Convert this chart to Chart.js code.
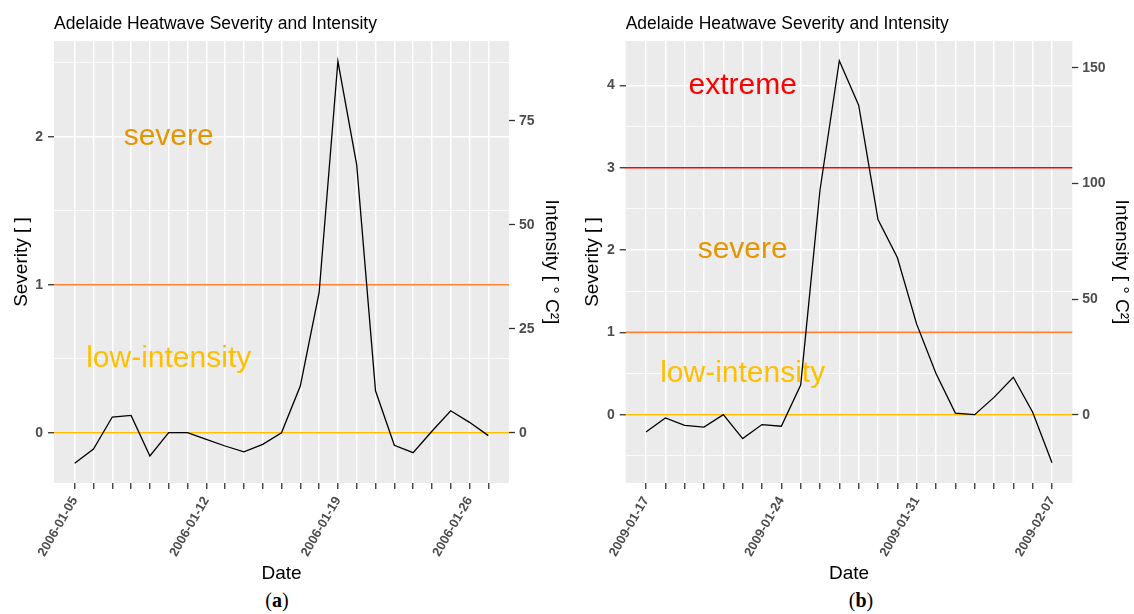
<!DOCTYPE html>
<html>
<head>
<meta charset="utf-8">
<script src="https://cdn.jsdelivr.net/npm/chart.js@4.4.0/dist/chart.umd.min.js"></script>
<style>
  body { margin: 0; background: #fff; width: 1134px; height: 614px; position: relative; overflow: hidden; }
  canvas { position: absolute; top: 0; }
  #chartA { left: 0; }
  #chartB { left: 566px; }
  .caption { position: absolute; top: 589px; width: 60px; text-align: center; font: 20px "Liberation Serif", serif; color: #000; }
</style>
</head>
<body>
<canvas id="chartA" width="566" height="588"></canvas>
<canvas id="chartB" width="568" height="588"></canvas>
<div class="caption" style="left:247px">(<b>a</b>)</div>
<div class="caption" style="left:831px">(<b>b</b>)</div>
<script>
//data (a) - January 2006
const datesA = [
  "2006-01-05", "2006-01-06", "2006-01-07", "2006-01-08", "2006-01-09", "2006-01-10",
  "2006-01-11", "2006-01-12", "2006-01-13", "2006-01-14", "2006-01-15", "2006-01-16",
  "2006-01-17", "2006-01-18", "2006-01-19", "2006-01-20", "2006-01-21", "2006-01-22",
  "2006-01-23", "2006-01-24", "2006-01-25", "2006-01-26", "2006-01-27",
];
const severityA = [
  -0.207, -0.11, 0.106, 0.117, -0.157, 0.0, 0.0, -0.045, -0.09, -0.13, -0.079, 0.0,
  0.315, 0.946, 2.51, 1.81, 0.283, -0.085, -0.135, 0.01, 0.148, 0.07, -0.02,
];
const severityTicksA = [0, 0.5, 1, 1.5, 2, 2.5];
const intensityTicksA = [0, 25, 50, 75];
const thresholdsA = [0, 1];
const zoneLabelsA = ["severe", "low-intensity"];
const zoneLevelsA = [2, 0.5];

//data (b) - January/February 2009
const datesB = [
  "2009-01-17", "2009-01-18", "2009-01-19", "2009-01-20", "2009-01-21", "2009-01-22",
  "2009-01-23", "2009-01-24", "2009-01-25", "2009-01-26", "2009-01-27", "2009-01-28",
  "2009-01-29", "2009-01-30", "2009-01-31", "2009-02-01", "2009-02-02", "2009-02-03",
  "2009-02-04", "2009-02-05", "2009-02-06", "2009-02-07",
];
const severityB = [
  -0.21, -0.04, -0.13, -0.15, 0.0, -0.29, -0.12, -0.14, 0.36, 2.73, 4.3, 3.76,
  2.37, 1.91, 1.1, 0.5, 0.02, 0.0, 0.21, 0.455, 0.03, -0.585,
];
const severityTicksB = [-0.5, 0, 0.5, 1, 1.5, 2, 2.5, 3, 3.5, 4];
const intensityTicksB = [0, 50, 100, 150];
const thresholdsB = [0, 1, 3];
const zoneLabelsB = ["extreme", "severe", "low-intensity"];
const zoneLevelsB = [4, 2, 0.5];

// secondary axis: intensity = severity * factor
const intensityPerSeverity = 35.6;

//style
const FONT = "'Liberation Sans', Arial, sans-serif";
const TICK_TEXT = "#4d4d4d";
const TICK_MARK = "#333333";
const zoneColours = { "low-intensity": "#ffbf00", severe: "#e69500", extreme: "#ff0000" };
const levelColours = { 0: "#ffbf00", 1: "#ff8236", 3: "#ff0000" };

const panelBackground = {
  id: "panelBackground",
  beforeDraw(chart) {
    const { ctx, chartArea: a } = chart;
    ctx.save();
    ctx.fillStyle = "#ebebeb";
    ctx.fillRect(a.left, a.top, a.right - a.left, a.bottom - a.top);
    ctx.restore();
  },
};

const zones = {
  id: "zones",
  beforeDatasetsDraw(chart, args, opts) {
    const { ctx, chartArea: a, scales } = chart;
    ctx.save();
    ctx.lineWidth = 1.6;
    opts.levels.forEach((v) => {
      const py = scales.y.getPixelForValue(v);
      ctx.strokeStyle = levelColours[v];
      ctx.beginPath();
      ctx.moveTo(a.left, py);
      ctx.lineTo(a.right, py);
      ctx.stroke();
    });
    ctx.font = "30px " + FONT;
    ctx.textAlign = "center";
    ctx.textBaseline = "middle";
    opts.labels.forEach((t, i) => {
      ctx.fillStyle = zoneColours[t];
      ctx.fillText(t, scales.x.getPixelForValue(opts.at), scales.y.getPixelForValue(opts.labelLevels[i]));
    });
    ctx.restore();
  },
};

function makePanel(id, p) {
  const n = p.dates.length;
  const pad = (n - 1) * 0.05;
  const isMajor = (c) => !c.tick || Number.isInteger(c.tick.value);
  return new Chart(document.getElementById(id), {
    type: "line",
    data: {
      datasets: [{
        data: p.severity.map((v, i) => ({ x: i, y: v })),
        borderColor: "#000",
        borderWidth: 1.3,
        pointRadius: 0,
        tension: 0,
        yAxisID: "y",
      }],
    },
    plugins: [panelBackground, zones],
    options: {
      responsive: false,
      animation: false,
      devicePixelRatio: 1,
      layout: { padding: 0 },
      plugins: {
        legend: { display: false },
        tooltip: { enabled: false },
        title: {
          display: true,
          text: "Adelaide Heatwave Severity and Intensity",
          align: "start",
          fullSize: false,
          color: "#000",
          font: { family: FONT, size: 17.5, weight: "normal" },
          padding: { top: 13.5, bottom: 6.5 },
        },
        zones: {
          levels: p.thresholds,
          labels: p.zoneLabels,
          labelLevels: p.zoneLevels,
          at: p.dates.indexOf(p.zoneDate),
        },
      },
      scales: {
        x: {
          type: "linear",
          min: -pad,
          max: n - 1 + pad,
          afterBuildTicks: (s) => { s.ticks = p.dates.map((d, i) => ({ value: i })); },
          afterFit: (s) => { s.height = 105; },
          ticks: {
            autoSkip: false,
            minRotation: 60,
            maxRotation: 60,
            padding: 5,
            color: TICK_TEXT,
            font: { family: FONT, size: 13, weight: "bold" },
            callback: (v) => (v % 7 === 0 ? p.dates[v] : ""),
          },
          grid: { color: "#ffffff", lineWidth: 1.5, tickColor: TICK_MARK, tickLength: 6, tickWidth: 1.3 },
          border: { display: false },
          title: {
            display: true,
            text: "Date",
            color: "#000",
            font: { family: FONT, size: 19 },
            padding: { top: 0, bottom: 2.6 },
          },
        },
        y: {
          position: "left",
          min: p.min,
          max: p.max,
          afterBuildTicks: (s) => { s.ticks = p.severityTicks.map((v) => ({ value: v })); },
          afterFit: (s) => { s.width = p.leftWidth; },
          ticks: {
            padding: p.leftPad,
            color: TICK_TEXT,
            font: { family: FONT, size: 14, weight: "bold" },
            callback: (v) => (Number.isInteger(v) ? v : ""),
          },
          grid: {
            color: "#ffffff",
            lineWidth: (c) => (isMajor(c) ? 1.5 : 0.8),
            tickColor: (c) => (isMajor(c) ? TICK_MARK : "rgba(0,0,0,0)"),
            tickLength: 6,
            tickWidth: 1.3,
          },
          border: { display: false },
          title: {
            display: true,
            text: "Severity [ ]",
            color: "#000",
            font: { family: FONT, size: 19 },
            padding: { top: p.leftTitle, bottom: 0 },
          },
        },
        y2: {
          position: "right",
          min: p.min * intensityPerSeverity,
          max: p.max * intensityPerSeverity,
          afterBuildTicks: (s) => { s.ticks = p.intensityTicks.map((v) => ({ value: v })); },
          afterFit: (s) => { s.width = p.rightWidth; },
          ticks: {
            padding: 4,
            color: TICK_TEXT,
            font: { family: FONT, size: 14, weight: "bold" },
          },
          grid: { drawOnChartArea: false, tickColor: TICK_MARK, tickLength: 6, tickWidth: 1.3 },
          border: { display: false },
          title: {
            display: true,
            text: "Intensity [ \u00b0 C\u00b2]",
            color: "#000",
            font: { family: FONT, size: 19 },
            padding: { top: p.rightTitle, bottom: 0 },
          },
        },
      },
    },
  });
}

const chartA = makePanel("chartA", {
  dates: datesA, severity: severityA,
  severityTicks: severityTicksA, intensityTicks: intensityTicksA,
  thresholds: thresholdsA, zoneLabels: zoneLabelsA, zoneLevels: zoneLevelsA, zoneDate: "2006-01-10",
  min: -0.34, max: 2.647,
  leftWidth: 54, rightWidth: 57, leftPad: 5, leftTitle: 10.6, rightTitle: 3.6,
});

const chartB = makePanel("chartB", {
  dates: datesB, severity: severityB,
  severityTicks: severityTicksB, intensityTicks: intensityTicksB,
  thresholds: thresholdsB, zoneLabels: zoneLabelsB, zoneLevels: zoneLevelsB, zoneDate: "2009-01-22",
  min: -0.83, max: 4.54,
  leftWidth: 59.7, rightWidth: 61.7, leftPad: 5, leftTitle: 15.6, rightTitle: 1.6,
});
</script>
</body>
</html>
